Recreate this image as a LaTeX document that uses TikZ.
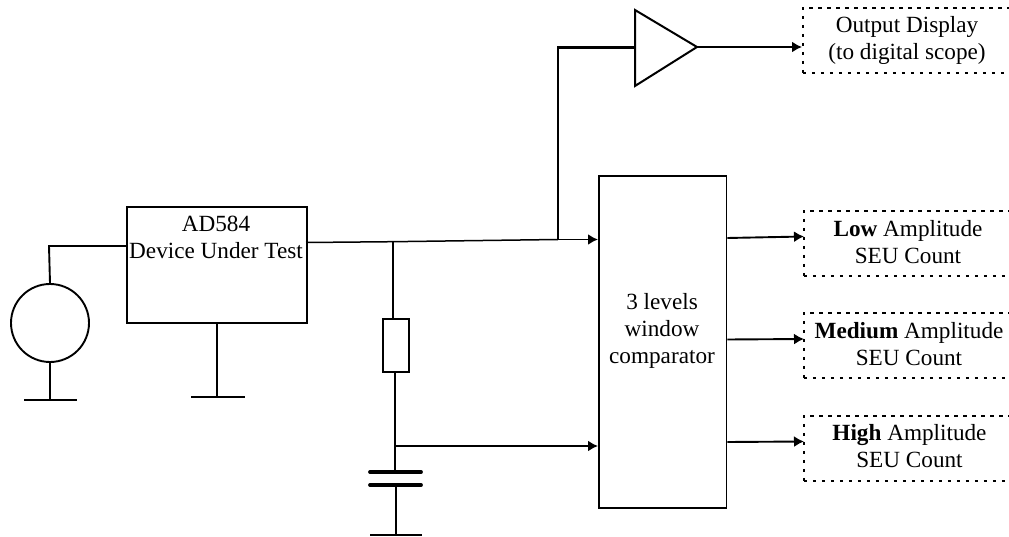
\documentclass[tikz,border=0pt]{standalone}
\usepackage{fontspec}
\setmainfont{Liberation Serif}
\usetikzlibrary{arrows.meta}
\begin{document}
\begin{tikzpicture}[x=1pt,y=-1pt,
  wire/.style={line width=1.9pt,black},
  thinwire/.style={line width=1.5pt,black},
  arrowwire/.style={wire,-{Latex[length=10pt,width=11pt]}},
  solidbox/.style={draw,line width=1.9pt,anchor=north west,inner sep=0pt},
  dotbox/.style={draw,line width=1.8pt,dash pattern=on 3.5pt off 5.5pt,anchor=north west,inner sep=0pt,minimum width=206.5pt,minimum height=65pt},
  lab/.style={font=\fontsize{23.2}{27}\selectfont,align=center,inner sep=0pt}]
\useasboundingbox (0,0) rectangle (1009,537);
% boxes
\node[solidbox,minimum width=180pt,minimum height=116pt] (dut) at (126,206) {};
\node[lab] (dutl) at (216,237.5) {AD584\\Device Under Test};
\node[solidbox,minimum width=127.5pt,minimum height=332pt] (cmp) at (598,175) {};
\node[lab] (cmpl) at (662,330.5) {3 levels\\window\\comparator};
\node[dotbox] (o1) at (802,7) {};
\node[dotbox] (o2) at (803,210) {};
\node[dotbox] (o3) at (803,312) {};
\node[dotbox] (o4) at (803,415) {};
\node[lab] (o1l) at (907,40) {Output Display\\(to digital scope)};
\node[lab] (o2l) at (908,242) {\textbf{Low} Amplitude\\SEU Count};
\node[lab] (o3l) at (909,344.5) {\textbf{Medium} Amplitude\\SEU Count};
\node[lab] (o4l) at (909.5,446.5) {\textbf{High} Amplitude\\SEU Count};
% source
\node[draw,circle,line width=1.9pt,minimum size=78pt,inner sep=0pt] (src) at (50,323) {};
\coordinate (srcg) at (50,400);
\draw[wire] (src.north) -- (49,246) -- (dut.west |- 0,246);
\draw[wire] (src.south) -- (srcg);
\draw[wire] (24,400) -- (77,400);
% dut ground
\coordinate (dg) at (217,397);
\draw[wire] (dg |- dut.south) -- (dg);
\draw[wire] (191,397) -- (245,397);
% main line
\coordinate (j1) at (393,241.7);
\coordinate (j2) at (558,239.5);
\draw[thinwire] (306,242.5) -- (j1) -- (j2);
\draw[arrowwire] (j2) -- (cmp.west |- j2);
% amp
\coordinate (a1) at (635,10);
\coordinate (a2) at (635,86);
\coordinate (a3) at (697,47);
\draw[line width=2pt,line join=miter] (a1) -- (a3) -- (a2) -- cycle;
\draw[line width=2.2pt] (j2) -- (558,47.5) -- (635,47.5);
\draw[arrowwire] (a3) -- (o1.west |- a3);
% resistor
\node[solidbox,minimum width=26pt,minimum height=53pt] (res) at (382,318) {};
\draw[wire] (j1) -- (j1 |- res.north);
\coordinate (j3) at (395,446);
\coordinate (cp) at (395,472);
\draw[wire] (j3 |- res.south) -- (cp);
\draw[arrowwire] (j3) -- (cmp.west |- j3);
% capacitor
\draw[line width=3.8pt,line cap=round] (370,472) -- (421,472);
\draw[line width=3.8pt,line cap=round] (370,485) -- (421,485);
\coordinate (cg) at (396,535);
\draw[wire] (396,485) -- (cg);
\draw[wire] (370,535) -- (422,535);
% outs
\draw[arrowwire] (cmp.east |- 0,238) -- (804,236.5);
\draw[arrowwire] (cmp.east |- 0,339.5) -- (804,339);
\draw[arrowwire] (cmp.east |- 0,442) -- (804,441.5);
\end{tikzpicture}
\end{document}
